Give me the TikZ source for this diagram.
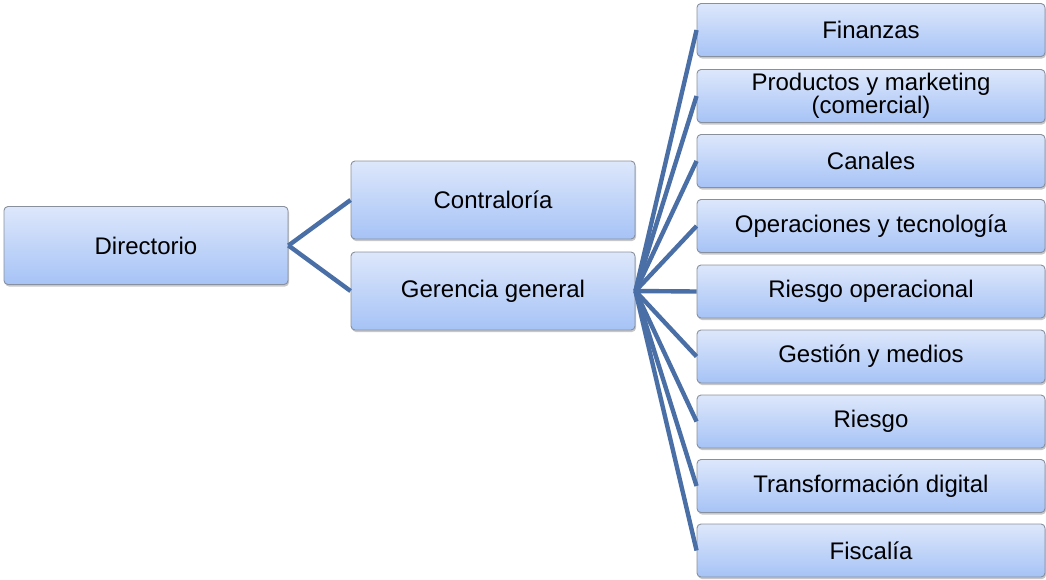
\documentclass[tikz,border=0pt]{standalone}
\usepackage{fontspec}
\setmainfont{Liberation Sans}
\usetikzlibrary{shadows}
\definecolor{linkblue}{HTML}{4A6EA6}
\definecolor{boxtop}{HTML}{DDE7FB}
\definecolor{boxbot}{HTML}{A6C3F6}
\definecolor{boxrim}{HTML}{87909C}
\begin{document}
\begin{tikzpicture}[x=1pt,y=1pt,
  unit/.style={rectangle, rounded corners=4pt, draw=boxrim, line width=0.9pt,
    top color=boxtop, bottom color=boxbot, align=center, inner sep=0pt,
    font=\fontsize{24}{23}\selectfont,
    drop shadow={shadow xshift=1pt, shadow yshift=-2pt, fill=black, opacity=0.22}},
  bigunit/.style={unit, minimum width=284pt, minimum height=78pt},
  areaunit/.style={unit, minimum width=348pt, minimum height=53pt},
  link/.style={draw=linkblue, line width=4.4pt}]
\useasboundingbox (0,0) rectangle (1046,-579);

% top of the chart
\node[bigunit] (dir) at (146,-245.5) {Directorio};
\node[bigunit] (con) at (493,-200) {Contraloría};
\node[bigunit] (ger) at (493,-291) {Gerencia general};

% areas reporting to the general management
\node[areaunit] (fin) at (871,-30)    {Finanzas};
\node[areaunit] (pro) at (871,-96)    {Productos y marketing\\(comercial)};
\node[areaunit] (can) at (871,-161)   {Canales};
\node[areaunit] (ope) at (871,-226)   {Operaciones y tecnología};
\node[areaunit] (rop) at (871,-291.5) {Riesgo operacional};
\node[areaunit] (ges) at (871,-356.5) {Gestión y medios};
\node[areaunit] (rie) at (871,-421.5) {Riesgo};
\node[areaunit] (tra) at (871,-486)   {Transformación digital};
\node[areaunit] (fis) at (871,-550.5) {Fiscalía};

% connectors
\draw[link] (dir.east) -- (con.west);
\draw[link] (dir.east) -- (ger.west);
\foreach \n in {fin,pro,can,ope,rop,ges,rie,tra,fis}
  \draw[link] (ger.east) -- (\n.west);
\end{tikzpicture}
\end{document}
